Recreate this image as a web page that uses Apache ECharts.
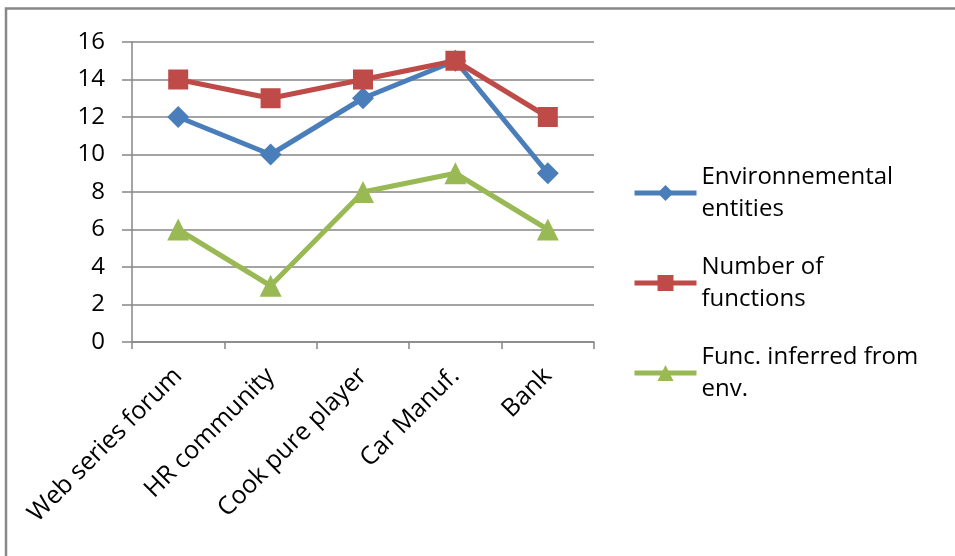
<!DOCTYPE html>
<html><head><meta charset="utf-8">
<script src="https://cdn.jsdelivr.net/npm/echarts@6/dist/echarts.min.js"></script>
<style>html,body{margin:0;padding:0;background:#fff}#c{width:955px;height:556px}</style>
</head><body><div id="c"></div>
<script>
const categories = ['Web series forum', 'HR community', 'Cook pure player', 'Car Manuf.', 'Bank'];
const envEntities = [12, 10, 13, 15, 9];
const numFunctions = [14, 13, 14, 15, 12];
const inferredFromEnv = [6, 3, 8, 9, 6];
const seriesNames = ['Environnemental\nentities', 'Number of\nfunctions', 'Func. inferred from\nenv.'];
const yTicks = [0, 2, 4, 6, 8, 10, 12, 14, 16];

const FONT = 'Open Sans';
const chart = echarts.init(document.getElementById('c'), null, {renderer: 'canvas'});
const mk = (name, data, color, symbol, size) => ({
  name, type: 'line', data, color,
  symbol, symbolSize: size, showSymbol: true,
  lineStyle: {width: 5, color},
  itemStyle: {color},
  animation: false
});
chart.setOption({
  animation: false,
  backgroundColor: '#fff',
  graphic: [{
    type: 'rect', shape: {x: 6, y: 8.5, width: 1000, height: 600},
    style: {fill: 'none', stroke: '#888', lineWidth: 2.5}, silent: true
  }],
  grid: {left: 132, right: 361, top: 42, bottom: 214, containLabel: false},
  xAxis: {
    type: 'category', data: categories, boundaryGap: true,
    axisLine: {lineStyle: {color: '#868686', width: 1.5}},
    axisTick: {show: true, length: 7, inside: false, lineStyle: {color: '#868686', width: 1.5}},
    axisLabel: {rotate: 45, fontFamily: FONT, fontSize: 25, color: '#000', margin: 30, interval: 0}
  },
  yAxis: {
    type: 'value', min: yTicks[0], max: yTicks[yTicks.length - 1], interval: 2,
    axisLine: {show: true, lineStyle: {color: '#868686', width: 1.5}},
    axisTick: {show: true, length: 10, lineStyle: {color: '#868686', width: 1.5}},
    splitLine: {show: true, lineStyle: {color: '#868686', width: 1.5}},
    axisLabel: {fontFamily: FONT, fontSize: 24, color: '#000', margin: 27}
  },
  legend: {
    orient: 'vertical', left: 627, top: 140,
    itemWidth: 62, itemHeight: 20, itemGap: -6,
    lineStyle: {width: 5},
    textStyle: {fontFamily: FONT, fontSize: 24, color: '#000', lineHeight: 32, padding: [32, 0, 0, 0]},
    data: seriesNames
  },
  series: [
    mk(seriesNames[0], envEntities, '#4A7EBB', 'diamond', 22),
    mk(seriesNames[1], numFunctions, '#BE4B48', 'rect', 20),
    mk(seriesNames[2], inferredFromEnv, '#98B954', 'triangle', 22)
  ]
});
</script></body></html>
